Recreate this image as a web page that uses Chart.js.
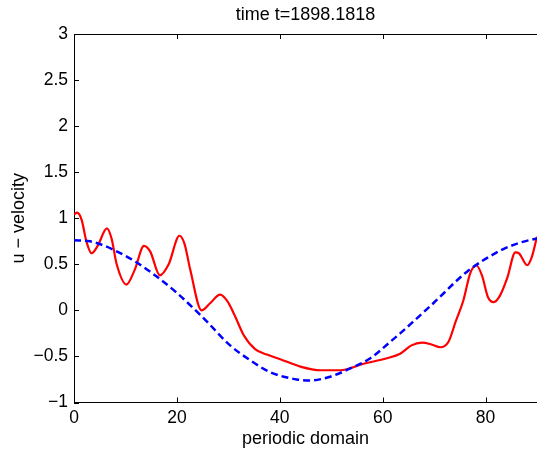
<!DOCTYPE html>
<html>
<head>
<meta charset="utf-8">
<script src="https://cdn.jsdelivr.net/npm/chart.js@4"></script>
<style>
  html, body { margin: 0; padding: 0; background: #fff; }
  #wrap { width: 537px; height: 453px; }
</style>
</head>
<body>
<div id="wrap"><canvas id="velChart" width="537" height="453"></canvas></div>
<script>
// values
const redX = [0, 0.6, 1.5, 2.4, 3.4, 4.6, 6.4, 7.3, 8.3, 10.2, 11.8, 13.6, 14.8, 16.7, 18.4, 20.5, 21.5, 22.6, 24.8, 26.5, 28.4, 29.8, 31.2, 33, 35.2, 37.5, 40.1, 44, 47.9, 51.8, 56.3, 60.8, 63.4, 65.6, 67.6, 69.5, 71.2, 72.8, 74.2, 75.7, 77, 78.2, 79.3, 80.5, 81.6, 82.8, 84.2, 85.8, 86.5, 88.1, 89, 90];
const redY = [1.04, 1.06, 0.98, 0.75, 0.62, 0.70, 0.89, 0.78, 0.50, 0.28, 0.44, 0.70, 0.64, 0.38, 0.50, 0.81, 0.72, 0.44, 0.0, 0.08, 0.17, 0.10, -0.05, -0.27, -0.42, -0.48, -0.53, -0.61, -0.65, -0.65, -0.58, -0.52, -0.47, -0.38, -0.35, -0.37, -0.40, -0.34, -0.12, 0.11, 0.40, 0.49, 0.38, 0.14, 0.09, 0.16, 0.35, 0.63, 0.62, 0.49, 0.58, 0.80];

const blueX = [0, 3.1, 5, 7.6, 12.2, 16, 20, 24, 25.8, 30.35, 34.2, 38.1, 43.3, 45.9, 49.8, 53.7, 57.6, 61.5, 63.4, 65.4, 69.9, 76.4, 82.9, 87, 90];
const blueY = [0.76, 0.75, 0.72, 0.66, 0.52, 0.37, 0.19, -0.02, -0.12, -0.38, -0.54, -0.67, -0.75, -0.76, -0.72, -0.63, -0.52, -0.34, -0.25, -0.15, 0.08, 0.42, 0.65, 0.74, 0.78];

const xTicks = [0, 20, 40, 60, 80];
const yTicks = [-1, -0.5, 0, 0.5, 1, 1.5, 2, 2.5, 3];

const FONT = '"Liberation Sans", Arial, Helvetica, sans-serif';

function pairs(xs, ys) {
    return xs.map((x, i) => ({ x: x, y: ys[i] }));
}

// matlab style ticks pointing into the axes
const innerTicks = {
    id: 'innerTicks',
    afterDraw(chart) {
        const { ctx, chartArea: a, scales } = chart;
        ctx.save();
        ctx.strokeStyle = '#000';
        ctx.lineWidth = 1;
        ctx.beginPath();
        scales.x.ticks.forEach(t => {
            const px = Math.round(scales.x.getPixelForValue(t.value)) + 0.5;
            ctx.moveTo(px, a.bottom);
            ctx.lineTo(px, a.bottom - 5);
            ctx.moveTo(px, a.top);
            ctx.lineTo(px, a.top + 5);
        });
        scales.y.ticks.forEach(t => {
            const py = Math.round(scales.y.getPixelForValue(t.value)) + 0.5;
            ctx.moveTo(a.left, py);
            ctx.lineTo(a.left + 5, py);
        });
        // top edge of the box
        ctx.moveTo(a.left, a.top + 0.5);
        ctx.lineTo(a.right, a.top + 0.5);
        ctx.stroke();
        ctx.restore();
    }
};

new Chart(document.getElementById('velChart'), {
    type: 'line',
    data: {
        datasets: [{
            data: pairs(blueX, blueY),
            borderColor: '#0000ff',
            borderWidth: 2.5,
            borderDash: [7, 4],
            pointRadius: 0,
            cubicInterpolationMode: 'monotone'
        }, {
            data: pairs(redX, redY),
            borderColor: '#ff0000',
            borderWidth: 2.2,
            pointRadius: 0,
            cubicInterpolationMode: 'monotone'
        }]
    },
    options: {
        responsive: false,
        animation: false,
        layout: { padding: 0 },
        plugins: {
            legend: { display: false },
            tooltip: { enabled: false },
            title: {
                display: true,
                text: 'time t=1898.1818',
                color: '#000',
                fullSize: false,
                font: { family: FONT, size: 18, weight: 'normal' },
                padding: { top: 4, bottom: 8.4 }
            }
        },
        scales: {
            x: {
                type: 'linear',
                min: 0,
                max: 90,
                grid: { display: false, drawTicks: false },
                border: { display: true, color: '#000', width: 1 },
                afterBuildTicks: s => { s.ticks = xTicks.map(v => ({ value: v })); },
                afterFit: s => { s.height = 50.5; },
                ticks: {
                    color: '#000',
                    padding: 5,
                    maxRotation: 0,
                    font: { family: FONT, size: 17.5 }
                },
                title: {
                    display: true,
                    text: 'periodic domain',
                    color: '#000',
                    font: { family: FONT, size: 18 },
                    padding: { top: 0, bottom: 3 }
                }
            },
            y: {
                min: -1,
                max: 3,
                grid: { display: false, drawTicks: false },
                border: { display: true, color: '#000', width: 1 },
                afterBuildTicks: s => { s.ticks = yTicks.map(v => ({ value: v })); },
                afterFit: s => { s.width = 74; },
                ticks: {
                    color: '#000',
                    padding: 6,
                    font: { family: FONT, size: 17.5 },
                    callback: v => String(v).replace('-', '\u2212')
                },
                title: {
                    display: true,
                    text: 'u \u2212 velocity',
                    color: '#000',
                    font: { family: FONT, size: 18 },
                    padding: { top: 8, bottom: 0 }
                }
            }
        }
    },
    plugins: [innerTicks]
});
</script>
</body>
</html>
